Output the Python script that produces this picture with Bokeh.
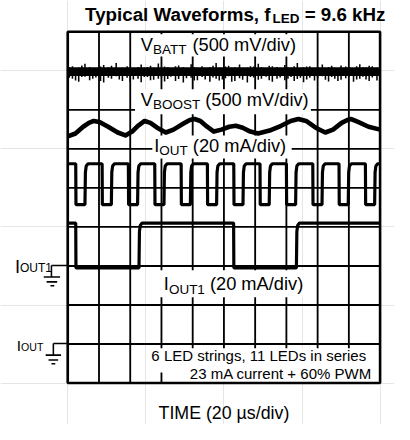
from bokeh.plotting import figure
from bokeh.models import Range1d
from bokeh.embed import file_html
from bokeh.resources import INLINE
from bokeh.core.properties import value

# ---------------- data (time in us, amplitude in divisions from bottom) ----------------
time_ticks_us = [0, 20, 40, 60, 80, 100, 120, 140, 160, 180, 200]
div_ticks = [0, 1, 2, 3, 4, 5, 6, 7, 8, 9]

# V_BATT : flat noisy trace
vbatt_t = [0, 200]
vbatt_v = [7.98, 7.98]
vbatt_spike_t = [1, 3, 5, 7, 9, 11, 14, 16, 18, 21, 23, 26, 28, 31, 33, 35, 38, 40, 42, 45, 47,
                 49, 51, 53, 55, 58, 60, 62, 64, 66, 69, 71, 74, 76, 79, 81, 83, 86, 88, 91, 93,
                 95, 97, 99, 101, 103, 105, 107, 110, 112, 115, 117, 119, 122, 124, 127, 129,
                 131, 134, 136, 139, 141, 143, 145, 147, 149, 151, 153, 155, 158, 160, 163, 165,
                 167, 169, 171, 173, 175, 178, 180, 183, 185, 187, 189, 191, 193, 195, 198]
vbatt_spike_hi = [8.10, 8.12, 8.06, 8.08, 8.14, 8.18, 8.10, 8.06, 8.07, 8.11, 8.15, 8.09, 8.13,
                  8.20, 8.07, 8.08, 8.12, 8.09, 8.06, 8.10, 8.16, 8.08, 8.10, 8.13, 8.08, 8.19,
                  8.07, 8.11, 8.09, 8.07, 8.12, 8.14, 8.09, 8.06, 8.17, 8.10, 8.08, 8.12, 8.07,
                  8.10, 8.13, 8.20, 8.08, 8.07, 8.11, 8.13, 8.08, 8.09, 8.16, 8.07, 8.08, 8.12,
                  8.11, 8.18, 8.09, 8.07, 8.13, 8.12, 8.10, 8.06, 8.15, 8.09, 8.08, 8.12, 8.20,
                  8.07, 8.09, 8.11, 8.12, 8.07, 8.10, 8.16, 8.08, 8.10, 8.13, 8.08, 8.06, 8.14,
                  8.11, 8.08, 8.07, 8.12, 8.17, 8.09, 8.09, 8.13, 8.12, 8.08]
vbatt_spike_lo = [7.82, 7.80, 7.75, 7.72, 7.84, 7.85, 7.76, 7.80, 7.83, 7.74, 7.70, 7.82, 7.80,
                  7.86, 7.78, 7.74, 7.82, 7.72, 7.78, 7.80, 7.71, 7.84, 7.84, 7.76, 7.77, 7.80,
                  7.83, 7.73, 7.79, 7.85, 7.74, 7.79, 7.70, 7.81, 7.82, 7.75, 7.76, 7.84, 7.78,
                  7.72, 7.83, 7.80, 7.75, 7.78, 7.81, 7.86, 7.72, 7.74, 7.81, 7.77, 7.70, 7.84,
                  7.83, 7.77, 7.80, 7.85, 7.76, 7.72, 7.80, 7.83, 7.76, 7.80, 7.84, 7.74, 7.79,
                  7.82, 7.71, 7.78, 7.82, 7.75, 7.81, 7.86, 7.77, 7.73, 7.84, 7.80, 7.74, 7.77,
                  7.81, 7.84, 7.72, 7.78, 7.80, 7.85, 7.78, 7.74, 7.83, 7.75]

# V_BOOST : ripple
vboost_t = [0, 4.92, 9.85, 13.54, 16.62, 20.31, 25.85, 32.0, 36.92, 41.23, 44.92, 49.23, 52.92,
            57.23, 62.77, 67.69, 73.85, 78.15, 81.23, 84.92, 89.23, 93.54, 98.46, 103.38, 107.69,
            112.0, 116.92, 121.85, 129.23, 136.62, 142.77, 147.69, 152.62, 158.77, 164.92,
            169.85, 175.38, 179.08, 181.54, 185.85, 192.62, 200]
vboost_v = [6.321, 6.395, 6.568, 6.667, 6.716, 6.691, 6.568, 6.420, 6.346, 6.444, 6.593, 6.716,
            6.667, 6.543, 6.420, 6.494, 6.642, 6.741, 6.765, 6.716, 6.568, 6.444, 6.494, 6.568,
            6.593, 6.543, 6.444, 6.395, 6.469, 6.593, 6.716, 6.765, 6.716, 6.543, 6.420, 6.494,
            6.667, 6.741, 6.765, 6.691, 6.568, 6.494]

# I_OUT : sum of the six strings
iout_fall_us = [5.1, 22.0, 38.8, 55.7, 72.6, 89.4, 106.3, 123.1, 140.0, 156.9, 173.7, 190.6]
iout_rise_us = [11.0, 27.9, 44.7, 61.6, 78.5, 95.3, 112.2, 129.0, 145.9, 162.8, 179.6, 196.5]
iout_high = 5.62
iout_low = 4.57

# I_OUT1 : one string, 60 % PWM
iout1_fall_us = [5.1, 106.2]
iout1_rise_us = [45.6, 146.4]
iout1_high = 4.10
iout1_low = 2.95

# ---------------- layout (reference-pixel coordinates, scaled into the canvas) ----------------
REF_W, REF_H = 410, 440
W, H = 394, 424
S = (W / REF_W + H / REF_H) / 2.0
TXT_DY = -4.5   # compensates the text baseline placement


def X(px):
    return (px - 70) * 20 / 32.5


def Y(py):
    return (397 - py) / 40.5


FONT = "Liberation Sans"
REG = {' ': 278, '(': 333, ')': 333, 'm': 833, 'V': 667, '/': 278, 'd': 556, 'i': 222,
       'v': 500, 'B': 667, 'A': 667, 'T': 611, 'O': 778, 'S': 667, 'U': 722, 'I': 278,
       'L': 556, 'E': 667, 'D': 722, 's': 500, 't': 278, 'r': 333, 'n': 556, 'g': 556,
       ',': 278, 'e': 556, 'c': 500, 'u': 556, '+': 584, '%': 889, 'P': 667, 'W': 944,
       'M': 833, '\u00b5': 576}
BOLD = {'T': 611, 'y': 556, 'p': 611, 'i': 278, 'c': 556, 'a': 556, 'l': 278, ' ': 278,
        'W': 944, 'v': 556, 'e': 556, 'f': 333, 'o': 611, 'r': 389, 'm': 889, 's': 556,
        ',': 278, 'L': 611, 'E': 667, 'D': 722, '=': 584, '.': 278, 'k': 556, 'H': 722,
        'z': 500}


def tw(s, size, bold=False):
    tab = BOLD if bold else REG
    return sum(tab.get(ch, 556) for ch in s) * size / 1000.0


p = figure(width=W, height=H, output_backend="svg", toolbar_location=None,
           x_range=Range1d(X(0), X(REF_W)), y_range=Range1d(Y(REF_H), Y(0)),
           x_axis_location=None, y_axis_location=None, min_border=0)
p.outline_line_color = None
p.background_fill_color = "white"
p.border_fill_color = "white"

x0, x1 = time_ticks_us[0], time_ticks_us[-1]
y0, y1 = div_ticks[0], div_ticks[-1]

# grid
p.segment(x0=time_ticks_us, x1=time_ticks_us, y0=[y0] * len(time_ticks_us), y1=[y1] * len(time_ticks_us),
          line_color="black", line_width=1.9 * S)
p.segment(x0=[x0] * len(div_ticks), x1=[x1] * len(div_ticks), y0=div_ticks, y1=div_ticks,
          line_color="black", line_width=1.9 * S)

# white boxes behind the in-plot labels (reference pixels: left, right, top, bottom)
boxes = [(143, 313, 35, 58), (140, 323, 92, 118), (158, 303, 140, 164),
         (165, 318, 280, 308), (155, 385, 361, 386), (195, 390, 380, 396)]
p.quad(left=[X(b[0]) for b in boxes], right=[X(b[1]) for b in boxes],
       top=[Y(b[2]) for b in boxes], bottom=[Y(b[3]) for b in boxes],
       fill_color="white", line_color=None)

# V_BATT
p.line(vbatt_t, vbatt_v, line_color="black", line_width=9 * S)
p.segment(x0=vbatt_spike_t, x1=vbatt_spike_t, y0=vbatt_spike_lo, y1=vbatt_spike_hi,
          line_color="black", line_width=1.6 * S)

# V_BOOST
p.line(vboost_t, vboost_v, line_color="black", line_width=4.8 * S, line_join="round")


def pwm_path(falls, rises, hi, lo):
    xs, ys = [x0], [hi]
    for f, r in zip(falls, rises):
        xs += [f, f + 0.15, r, r + 0.3, r + 0.8, r + 2.0]
        ys += [hi, lo, lo, hi - 0.22, hi - 0.06, hi]
    xs.append(x1)
    ys.append(hi)
    return xs, ys


ix, iy = pwm_path(iout_fall_us, iout_rise_us, iout_high, iout_low)
p.line(ix, iy, line_color="black", line_width=3.3 * S)
ix1, iy1 = pwm_path(iout1_fall_us, iout1_rise_us, iout1_high, iout1_low)
p.line(ix1, iy1, line_color="black", line_width=3.3 * S)

# border
p.quad(left=[x0], right=[x1], top=[y1], bottom=[y0], fill_color=None,
       line_color="black", line_width=2.7 * S)

# ground symbols (reference pixels)
gsegs = [
    (53, 275, 70, 275), (53, 275, 53, 287), (45, 287, 62, 287), (48, 292, 59, 292), (52, 296, 56, 296),
    (55, 356, 70, 356), (55, 356, 55, 368), (47, 368, 63, 368), (50, 373, 60, 373), (53, 377, 57, 377),
]
p.segment(x0=[X(s[0]) for s in gsegs], y0=[Y(s[1]) for s in gsegs],
          x1=[X(s[2]) for s in gsegs], y1=[Y(s[3]) for s in gsegs],
          line_color="black", line_width=1.6 * S)


def txt(px, py, s, size, bold=False, align="left"):
    p.text(x=[X(px)], y=[Y(py + TXT_DY)], text=[s], text_font=value(FONT),
           text_font_size=value(f"{size * S:.2f}px"), text_font_style="bold" if bold else "normal",
           text_align=align, text_baseline="alphabetic", text_color="black")


def composite(px, py, parts, bold=False):
    # parts: list of (string, size, baseline_shift_px); leading spaces become offsets
    cx = px
    for s, size, dy in parts:
        stripped = s.lstrip(" ")
        cx += tw(s[:len(s) - len(stripped)], size, bold)
        txt(cx, py + dy, stripped, size, bold)
        cx += tw(stripped, size, bold)


# title
composite(88, 19.5, [("Typical Waveforms, f", 19.5, 0), ("LED", 14, 4), (" = 9.6 kHz", 19.5, 0)], bold=True)

# trace labels
composite(146, 50, [("V", 19, 0), ("BATT", 14, 5), (" (500 mV/div)", 19, 0)])
composite(146, 107, [("V", 19, 0), ("BOOST", 14, 5), (" (500 mV/div)", 19, 0)])
composite(160, 155, [("I", 19, 0), ("OUT", 14, 5), (" (20 mA/div)", 19, 0)])
composite(170, 298, [("I", 19, 0), ("OUT1", 14, 6), (" (20 mA/div)", 19, 0)])

# left labels
composite(15, 281, [("I", 19, 0), ("OUT1", 12.5, 1)])
composite(17, 363, [("I", 16, 0), ("OUT", 11, 1)])

# notes
txt(157, 373, "6 LED strings, 11 LEDs in series", 15.6)
txt(197, 392, "23 mA current + 60% PWM", 15.6)

# x label
txt(232.5, 433, "TIME (20 \u00b5s/div)", 18.5, align="center")

open("out.html", "w").write(file_html(p, INLINE))
